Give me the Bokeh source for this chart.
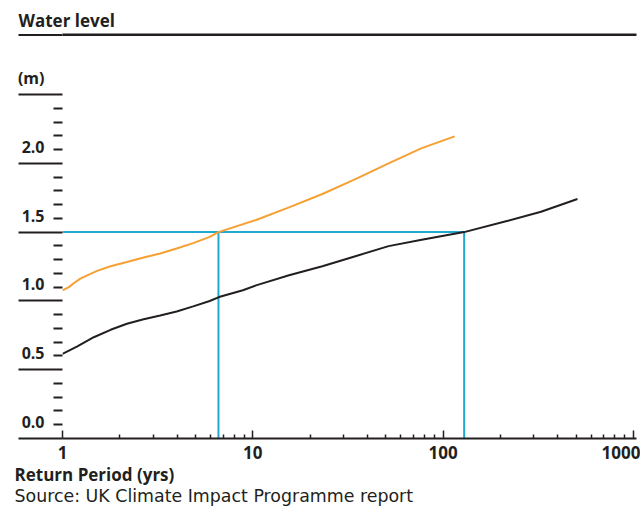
from bokeh.plotting import figure
from bokeh.models import FixedTicker, Title
from bokeh.layouts import column
from bokeh.embed import file_html
from bokeh.resources import INLINE

# ---- data ----
return_orange = [1, 1.08, 1.15, 1.24, 1.35, 1.52, 1.79, 2.18, 2.67, 3.26, 3.98, 4.86, 5.94, 6.6,
                 10.4, 15.5, 23.2, 34.6, 51.7, 77.2, 115]
level_orange = [1.077, 1.10, 1.13, 1.162, 1.186, 1.218, 1.252, 1.283, 1.315, 1.345, 1.381, 1.42, 1.465, 1.5,
                1.588, 1.68, 1.777, 1.885, 2.0, 2.11, 2.196]

return_black = [1, 1.19, 1.46, 1.79, 2.18, 2.67, 3.26, 3.98, 4.86, 5.94, 6.64, 8.87,
                10.4, 15.5, 23.2, 34.6, 51.7, 77.2, 129, 219, 327, 508]
level_black = [0.615, 0.668, 0.736, 0.79, 0.834, 0.867, 0.894, 0.923, 0.96, 0.999, 1.028, 1.077,
               1.113, 1.186, 1.252, 1.325, 1.398, 1.445, 1.5, 1.582, 1.648, 1.741]

threshold_level = 1.5
crossing_periods = [6.6, 129]

y_major = [0.0, 0.5, 1.0, 1.5, 2.0, 2.5]
y_labels = ["0.0", "0.5", "1.0", "1.5", "2.0", "(m)"]
y_minor = [0.1, 0.2, 0.3, 0.4, 0.6, 0.7, 0.8, 0.9, 1.1, 1.2, 1.3, 1.4,
           1.6, 1.7, 1.8, 1.9, 2.1, 2.2, 2.3, 2.4]
x_major = [1, 10, 100, 1000]
x_labels = ["1", "10", "100", "1000"]
x_minor = [2, 3, 4, 5, 6, 7, 8, 9, 20, 30, 40, 50, 60, 70, 80, 90,
           200, 300, 400, 500, 600, 700, 800, 900]

INK = "#231f20"
ORANGE = "#f6a033"
CYAN = "#1fa9cf"
BOLD_FONT = "Open Sans"
TEXT_FONT = "DejaVu Sans"

# ---- header: title + rule (frame fill + one long tick to the left) ----
head = figure(width=640, height=36, x_range=(0, 1), y_range=(0, 1),
              x_axis_location=None,
              output_backend="svg", toolbar_location=None,
              min_border_left=62, min_border_right=4, min_border_top=33, min_border_bottom=0)
head.background_fill_color = INK
head.border_fill_color = "white"
head.outline_line_color = None
head.grid.visible = False
hy = head.yaxis[0]
hy.ticker = FixedTicker(ticks=[0.5], minor_ticks=[])
hy.axis_line_color = None
hy.major_tick_out = 44
hy.major_tick_in = 0
hy.major_tick_line_width = 3
hy.major_tick_line_color = INK
hy.minor_tick_out = 0
hy.major_label_overrides = {0.5: ""}
hy.major_label_text_font_size = "1px"
hy.major_label_standoff = 0
head.title.text = "Water level"
head.title.align = "left"
head.title.offset = -44
head.title.standoff = 4
head.title.text_font = BOLD_FONT
head.title.text_font_style = "bold"
head.title.text_font_size = "17px"
head.title.text_color = INK

# ---- main chart ----
p = figure(width=640, height=478, x_axis_type="log", x_range=(1, 1038), y_range=(0, 2.5),
           output_backend="svg", toolbar_location=None,
           min_border_left=62, min_border_right=4, min_border_top=58, min_border_bottom=76)
p.outline_line_color = None
p.xgrid.visible = False
p.ygrid.visible = False
p.background_fill_color = "white"
p.border_fill_color = "white"

# threshold lines
p.line(x=[x_major[0], crossing_periods[1]], y=[threshold_level, threshold_level],
       line_color=CYAN, line_width=2)
p.segment(x0=crossing_periods, y0=[y_major[0]] * 2, x1=crossing_periods,
          y1=[threshold_level] * 2, line_color=CYAN, line_width=2)

# curves
p.line(return_orange, level_orange, line_color=ORANGE, line_width=2)
p.line(return_black, level_black, line_color=INK, line_width=2)

# y axis: long major ticks under the labels, short minor ticks
ya = p.yaxis[0]
ya.ticker = FixedTicker(ticks=y_major, minor_ticks=y_minor)
ya.axis_line_color = None
ya.major_tick_out = 44
ya.major_tick_in = 0
ya.minor_tick_out = 9
ya.minor_tick_in = 0
ya.major_tick_line_width = 2
ya.minor_tick_line_width = 2
ya.major_tick_line_color = INK
ya.minor_tick_line_color = INK
ya.major_label_overrides = {v: lbl + "\n " for v, lbl in zip(y_major, y_labels)}
ya.major_label_standoff = -26
ya.major_label_text_font = BOLD_FONT
ya.major_label_text_font_style = "bold"
ya.major_label_text_font_size = "16px"
ya.major_label_text_line_height = 1.5
ya.major_label_text_color = INK

# x axis
xa = p.xaxis[0]
xa.ticker = FixedTicker(ticks=x_major, minor_ticks=x_minor)
xa.major_label_overrides = {v: lbl for v, lbl in zip(x_major, x_labels)}
xa.axis_line_color = INK
xa.axis_line_width = 2
xa.major_tick_in = 8
xa.major_tick_out = 0
xa.minor_tick_in = 4
xa.minor_tick_out = 0
xa.major_tick_line_width = 1.5
xa.minor_tick_line_width = 1.5
xa.major_tick_line_color = INK
xa.minor_tick_line_color = INK
xa.major_label_standoff = 7
xa.major_label_text_font = BOLD_FONT
xa.major_label_text_font_style = "bold"
xa.major_label_text_font_size = "17px"
xa.major_label_text_color = INK

xlabel = Title(text="Return Period (yrs)", align="left", offset=-48, standoff=-2,
               text_font=BOLD_FONT, text_font_style="bold", text_font_size="17px", text_color=INK)
p.add_layout(xlabel, "below")
source = Title(text="Source: UK Climate Impact Programme report", align="left", offset=-48, standoff=-2,
               text_font=TEXT_FONT, text_font_style="normal", text_font_size="17.4px", text_color=INK)
p.add_layout(source, "below")

layout = column(head, p, spacing=0)
open("out.html", "w").write(file_html(layout, INLINE))
